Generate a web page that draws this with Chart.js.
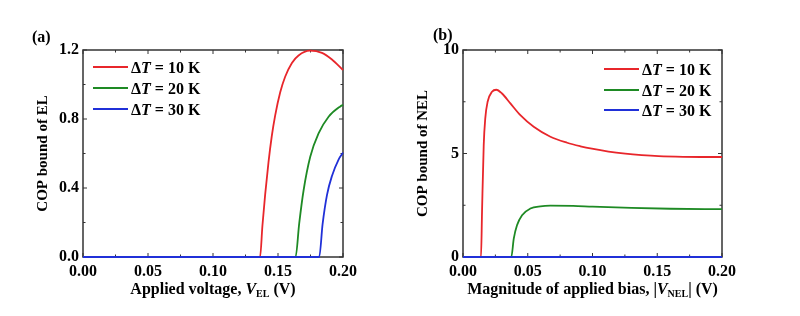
<!DOCTYPE html>
<html>
<head>
<meta charset="utf-8">
<script src="https://cdn.jsdelivr.net/npm/chart.js@4.4.1/dist/chart.umd.min.js"></script>
<style>
  body { margin: 0; background: #fff; }
  .panel { position: absolute; top: 0; width: 400px; height: 316px; }
</style>
</head>
<body>
<div class="panel" style="left:0"><canvas id="elChart" width="400" height="316"></canvas></div>
<div class="panel" style="left:400px"><canvas id="nelChart" width="400" height="316"></canvas></div>
<script>
// Tick values
const xTicks = [0, 0.05, 0.1, 0.15, 0.2];
const xMinor = [0.025, 0.075, 0.125, 0.175];
const elYTicks = [0, 0.4, 0.8, 1.2];
const elYMinor = [0.2, 0.6, 1.0];
const nelYTicks = [0, 5, 10];
const nelYMinor = [2.5, 7.5];

const seriesLabels = ["10 K", "20 K", "30 K"];
const seriesColors = ["#e8262b", "#1e8a24", "#2030d8"];

// (a) COP bound of EL vs applied voltage
const elRedX = [0, 0.1362, 0.138, 0.1401, 0.1427, 0.1452, 0.1478, 0.1517, 0.1555, 0.1607, 0.1658, 0.1745, 0.1838, 0.1915, 0.2];
const elRedY = [0, 0, 0.18, 0.36, 0.55, 0.70, 0.82, 0.955, 1.045, 1.125, 1.168, 1.196, 1.183, 1.145, 1.084];
const elGreenX = [0, 0.1635, 0.1663, 0.1697, 0.1748, 0.1812, 0.1889, 0.1979, 0.2];
const elGreenY = [0, 0, 0.194, 0.387, 0.581, 0.716, 0.813, 0.873, 0.882];
const elBlueX = [0, 0.1817, 0.1843, 0.1877, 0.1915, 0.1966, 0.2];
const elBlueY = [0, 0, 0.19, 0.36, 0.47, 0.565, 0.605];

// (b) COP bound of NEL vs |bias|
const nelRedX = [0, 0.0139, 0.0147, 0.016, 0.0172, 0.019, 0.0224, 0.0257, 0.0301, 0.0366, 0.0443, 0.0546, 0.0675, 0.0804, 0.0907, 0.0995, 0.1124, 0.1253, 0.138, 0.151, 0.17, 0.2];
const nelRedY = [0, 0, 2.2, 5.4, 6.7, 7.5, 7.98, 8.08, 7.9, 7.42, 6.85, 6.29, 5.81, 5.52, 5.35, 5.23, 5.09, 4.99, 4.92, 4.87, 4.84, 4.83];
const nelGreenX = [0, 0.0373, 0.0392, 0.0417, 0.0456, 0.052, 0.0598, 0.0675, 0.085, 0.1, 0.13, 0.16, 0.2];
const nelGreenY = [0, 0, 0.89, 1.53, 2.02, 2.34, 2.45, 2.48, 2.47, 2.43, 2.37, 2.33, 2.31];
const nelBlueX = [0, 0.2];
const nelBlueY = [0, 0];

const FONT = '"Liberation Serif", "Times New Roman", serif';

function pts(xs, ys) {
  return xs.map((x, i) => ({ x: x, y: ys[i] }));
}

function drawRuns(ctx, runs, x, baseline, align) {
  const fontOf = r => (r.i ? "italic " : "") + "bold " + (r.sub ? 10 : 16) + "px " + FONT;
  const widths = runs.map(r => { ctx.font = fontOf(r); return ctx.measureText(r.t).width; });
  const total = widths.reduce((a, b) => a + b, 0);
  let cx = align === "center" ? x - total / 2 : x;
  ctx.textAlign = "left";
  ctx.textBaseline = "alphabetic";
  runs.forEach((r, i) => {
    ctx.font = fontOf(r);
    ctx.fillText(r.t, cx, baseline + (r.sub ? 3 : 0));
    cx += widths[i];
  });
}

// frame, inward ticks, titles, legend and panel label
function framePlugin(p) {
  return {
    id: "frame",
    beforeDatasetsDraw(chart) {
      const { ctx, chartArea: a, scales: { x, y } } = chart;
      ctx.save();
      ctx.strokeStyle = "#333";
      ctx.lineWidth = 1;
      const tickX = (v, len) => {
        const px = x.getPixelForValue(v);
        ctx.beginPath();
        ctx.moveTo(px, a.bottom); ctx.lineTo(px, a.bottom - len);
        ctx.moveTo(px, a.top); ctx.lineTo(px, a.top + len);
        ctx.stroke();
      };
      const tickY = (v, len) => {
        const py = y.getPixelForValue(v);
        ctx.beginPath();
        ctx.moveTo(a.left, py); ctx.lineTo(a.left + len, py);
        ctx.moveTo(a.right, py); ctx.lineTo(a.right - len, py);
        ctx.stroke();
      };
      xTicks.forEach(v => tickX(v, 4));
      xMinor.forEach(v => tickX(v, 2.5));
      p.yTicks.forEach(v => tickY(v, 4));
      p.yMinor.forEach(v => tickY(v, 2.5));
      ctx.lineWidth = 1.5;
      ctx.strokeRect(a.left, a.top, a.right - a.left, a.bottom - a.top);
      ctx.restore();
    },
    afterDraw(chart) {
      const ctx = chart.ctx;
      ctx.save();
      ctx.fillStyle = "#000";
      // panel label
      ctx.font = "bold 16px " + FONT;
      ctx.textAlign = "left";
      ctx.fillText(p.label, p.labelX, p.labelY);
      // y title
      ctx.save();
      ctx.translate(p.yTitleX, (chart.chartArea.top + chart.chartArea.bottom) / 2);
      ctx.rotate(-Math.PI / 2);
      ctx.font = "bold 15px " + FONT;
      ctx.textAlign = "center";
      ctx.textBaseline = "middle";
      ctx.fillText(p.yTitle, 0, 0);
      ctx.restore();
      // x title
      drawRuns(ctx, p.xTitle, (chart.chartArea.left + chart.chartArea.right) / 2, 294, "center");
      // legend
      p.legendY.forEach((ly, i) => {
        ctx.strokeStyle = seriesColors[i];
        ctx.lineWidth = 2;
        ctx.beginPath();
        ctx.moveTo(p.legendX, ly);
        ctx.lineTo(p.legendX + 35, ly);
        ctx.stroke();
        drawRuns(ctx, [{ t: "\u0394" }, { t: "T", i: true }, { t: " = " + seriesLabels[i] }], p.legendX + 38, ly + 6, "left");
      });
      ctx.restore();
    }
  };
}

function makeChart(id, series, p) {
  const datasets = series.map((s, i) => ({
    data: pts(s[0], s[1]),
    borderColor: seriesColors[i],
    borderWidth: 1.8,
    pointRadius: 0,
    fill: false,
    cubicInterpolationMode: "monotone",
    clip: false,
    order: -i
  }));
  const tickFont = { family: FONT, size: 16, weight: "bold" };
  return new Chart(document.getElementById(id), {
    type: "line",
    data: { datasets: datasets },
    options: {
      responsive: false,
      animation: false,
      events: [],
      layout: { padding: { left: 0, right: p.padRight, top: 50, bottom: 0 } },
      plugins: { legend: { display: false }, tooltip: { enabled: false } },
      scales: {
        x: {
          type: "linear",
          min: 0,
          max: 0.2,
          afterBuildTicks: s => { s.ticks = xTicks.map(v => ({ value: v })); },
          afterFit: s => { s.height = 59; },
          ticks: { callback: v => v.toFixed(2), font: tickFont, color: "#000", padding: 5, autoSkip: false, maxRotation: 0 },
          grid: { display: false, drawTicks: false },
          border: { display: false }
        },
        y: {
          type: "linear",
          min: 0,
          max: p.yMax,
          afterBuildTicks: s => { s.ticks = p.yTicks.map(v => ({ value: v })); },
          afterFit: s => { s.width = p.yWidth; },
          ticks: { callback: v => v.toFixed(p.yDigits), font: tickFont, color: "#000", padding: 4, autoSkip: false },
          grid: { display: false, drawTicks: false },
          border: { display: false }
        }
      }
    },
    plugins: [framePlugin(p)]
  });
}

makeChart("elChart", [[elRedX, elRedY], [elGreenX, elGreenY], [elBlueX, elBlueY]], {
  yMax: 1.2, yTicks: elYTicks, yMinor: elYMinor, yDigits: 1,
  yWidth: 83, padRight: 57,
  label: "(a)", labelX: 32, labelY: 42,
  yTitle: "COP bound of EL", yTitleX: 43,
  xTitle: [{ t: "Applied voltage, " }, { t: "V", i: true }, { t: "EL", sub: true }, { t: " (V)" }],
  legendX: 93, legendY: [67, 88, 109]
});

makeChart("nelChart", [[nelRedX, nelRedY], [nelGreenX, nelGreenY], [nelBlueX, nelBlueY]], {
  yMax: 10, yTicks: nelYTicks, yMinor: nelYMinor, yDigits: 0,
  yWidth: 63, padRight: 78,
  label: "(b)", labelX: 33, labelY: 40,
  yTitle: "COP bound of NEL", yTitleX: 23,
  xTitle: [{ t: "Magnitude of applied bias, |" }, { t: "V", i: true }, { t: "NEL", sub: true }, { t: "| (V)" }],
  legendX: 204, legendY: [69, 90, 110]
});
</script>
</body>
</html>
